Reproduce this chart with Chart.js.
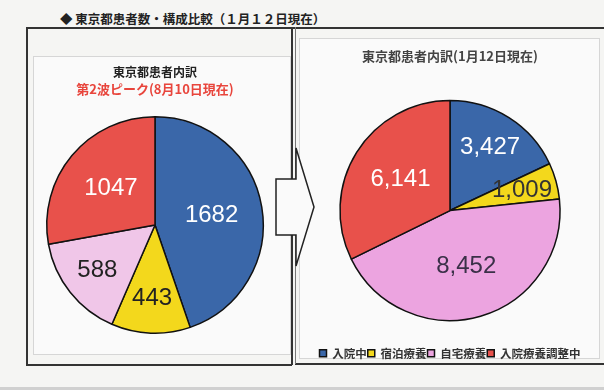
<!DOCTYPE html>
<html>
<head>
<meta charset="utf-8">
<script src="https://cdn.jsdelivr.net/npm/chart.js@4"></script>
<style>
  html, body { margin: 0; padding: 0; }
  body {
    width: 604px; height: 390px; position: relative; overflow: hidden;
    background: #f5f5f3; font-family: "Noto Sans CJK JP", sans-serif;
  }
  .heading { position: absolute; left: 60px; top: 9px; font-size: 12.5px; font-weight: bold; color: #222; white-space: nowrap; }
  .line { position: absolute; background: #333; }
  .panel { position: absolute; border: 1px solid #d6d6d6; background: #fafafa; }
  .scanbar { position: absolute; left: 0; top: 387px; width: 604px; height: 3px; background: #d0d0d0; }
  canvas { position: absolute; }
</style>
</head>
<body>
<div class="heading">◆ 東京都患者数・構成比較（１月１２日現在）</div>

<div class="panel" style="left:33px; top:56px; width:256px; height:297px;"></div>
<div class="panel" style="left:299px; top:38px; width:299px; height:319px;"></div>

<div class="line" style="left:26px; top:27px; width:578px; height:1.5px;"></div>
<div class="line" style="left:26px; top:27px; width:1.5px; height:338px;"></div>
<div class="line" style="left:26px; top:364px; width:266px; height:1.5px;"></div>
<div class="line" style="left:295px; top:363px; width:309px; height:1.5px;"></div>
<div class="line" style="left:291px; top:27px; width:1.5px; height:338px;"></div>
<div class="line" style="left:295px; top:27px; width:1px; height:337px; background:#777;"></div>
<div class="scanbar"></div>

<svg style="position:absolute; left:0; top:0;" width="604" height="390">
  <polygon points="276,179 296,179 296,148 314,207 296,266 296,235 276,235"
           fill="#fafafa" stroke="#222" stroke-width="1.5"/>
</svg>

<canvas id="augChart" width="240" height="284" style="left:40px; top:57px; width:240px; height:284px;"></canvas>
<canvas id="janChart" width="300" height="331" style="left:300px; top:40px; width:300px; height:331px;"></canvas>

<script>
const categories = ['入院中', '宿泊療養', '自宅療養', '入院療養調整中'];
const augValues = [1682, 443, 588, 1047];   // 8月10日
const janValues = [3427, 1009, 8452, 6141]; // 1月12日

const blue = '#3a67a9';
const yellow = '#f3d81c';
const red = '#e8514b';
const augColors = [blue, yellow, '#f0c6e8', red];
const janColors = [blue, yellow, '#eca4e0', red];

// numbers written inside each slice
const sliceLabels = {
  id: 'sliceLabels',
  afterDatasetsDraw(chart, args, opts) {
    const ctx = chart.ctx;
    const meta = chart.getDatasetMeta(0);
    const values = chart.data.datasets[0].data;
    ctx.save();
    ctx.font = '24px "Liberation Sans", Arial, sans-serif';
    ctx.textAlign = 'center';
    ctx.textBaseline = 'middle';
    meta.data.forEach((arc, i) => {
      const p = arc.getProps(['x', 'y', 'startAngle', 'endAngle', 'outerRadius'], true);
      const mid = (p.startAngle + p.endAngle) / 2;
      const span = p.endAngle - p.startAngle;
      const r = p.outerRadius * (span > 1.5 ? 0.53 : 0.68);
      ctx.fillStyle = opts.colors[i];
      ctx.fillText(opts.format(values[i]), p.x + Math.cos(mid) * r, p.y + Math.sin(mid) * r);
    });
    ctx.restore();
  }
};

new Chart(document.getElementById('augChart'), {
  type: 'pie',
  data: {
    labels: categories,
    datasets: [{
      data: augValues,
      backgroundColor: augColors,
      borderColor: '#111',
      borderWidth: 1.5
    }]
  },
  options: {
    responsive: false,
    animation: false,
    layout: { padding: { left: 0, right: 10, bottom: 7 } },
    plugins: {
      legend: { display: false },
      tooltip: { enabled: false },
      title: {
        display: true,
        text: '東京都患者内訳',
        color: '#222',
        font: { family: '"Noto Sans CJK JP"', size: 12, weight: 'bold' },
        padding: { top: 8, bottom: 2 }
      },
      subtitle: {
        display: true,
        text: '第2波ピーク(8月10日現在)',
        color: '#e8453c',
        font: { family: '"Noto Sans CJK JP"', size: 13, weight: 'bold' },
        padding: { bottom: 19 }
      },
      sliceLabels: {
        colors: ['#ffffff', '#222222', '#222222', '#ffffff'],
        format: v => String(v)
      }
    }
  },
  plugins: [sliceLabels]
});

new Chart(document.getElementById('janChart'), {
  type: 'pie',
  data: {
    labels: categories,
    datasets: [{
      data: janValues,
      backgroundColor: janColors,
      borderColor: '#111',
      borderWidth: 1.5,
      radius: 110
    }]
  },
  options: {
    responsive: false,
    animation: false,
    layout: { padding: { bottom: 2 } },
    plugins: {
      tooltip: { enabled: false },
      title: {
        display: true,
        text: '東京都患者内訳(1月12日現在)',
        color: '#444',
        font: { family: '"Noto Sans CJK JP"', size: 13, weight: 'bold' },
        padding: { top: 8, bottom: 11 }
      },
      legend: {
        position: 'bottom',
        labels: {
          boxWidth: 7,
          boxHeight: 7,
          padding: 1,
          color: '#333',
          font: { family: '"Noto Sans CJK JP"', size: 11.5, weight: 'bold' }
        }
      },
      sliceLabels: {
        colors: ['#ffffff', '#333333', '#3a3048', '#ffffff'],
        format: v => v.toLocaleString('en-US')
      }
    }
  },
  plugins: [sliceLabels]
});
</script>
</body>
</html>
